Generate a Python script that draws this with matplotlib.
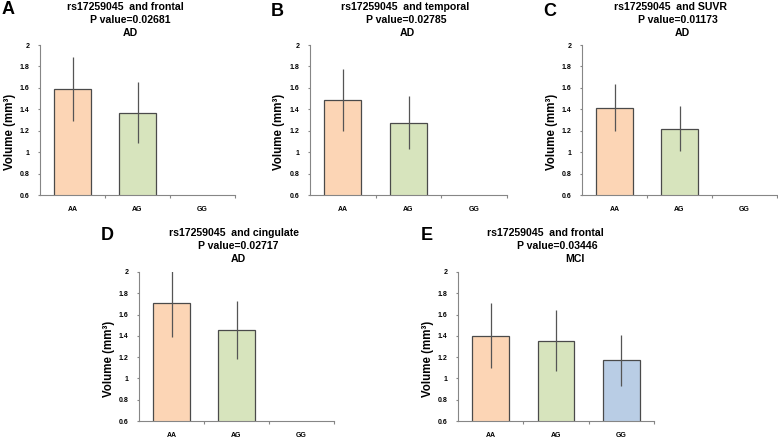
import numpy as np
import matplotlib
matplotlib.use("Agg")
import matplotlib.pyplot as plt

plt.rcParams['font.family'] = ['Liberation Sans', 'DejaVu Sans']

# data
genotypes = ["AA", "AG", "GG"]
letters = ["A", "B", "C", "D", "E"]
regions = ["frontal", "temporal", "SUVR", "cingulate", "frontal"]
p_values = ["0.02681", "0.02785", "0.01173", "0.02717", "0.03446"]
groups = ["AD", "AD", "AD", "AD", "MCI"]
means = [[1.59, 1.37], [1.488, 1.275], [1.415, 1.219], [1.71, 1.456], [1.403, 1.356, 1.169]]
errors = [[0.295, 0.283], [0.288, 0.25], [0.221, 0.21], [0.32, 0.275], [0.305, 0.284, 0.24]]
yticks = [0.6, 0.8, 1.0, 1.2, 1.4, 1.6, 1.8, 2.0]
ytick_labels = ["0.6", "0.8", "1", "1.2", "1.4", "1.6", "1.8", "2"]

bar_colors = ["#FCD5B5", "#D7E4BD", "#B9CDE5"]
W, H = 778, 438

#axes rectangles in pixels: left, top, width, height
rects = [(40, 45, 195, 150), (310, 45, 197, 150), (582, 45, 195, 150),
         (139, 272, 195, 149), (458, 272, 196, 149)]
#title line centres (x for each line, y for each line) and letter positions
title_x = [(125, 130, 130), (405, 406, 407), (670, 678, 682), (234, 238, 238), (545, 557, 575)]
title_y_top = (7, 20, 33)
title_y_bot = (233, 246, 259)
letter_pos = [(8, 9), (277, 11), (550, 11), (107, 235), (427, 235)]

fig = plt.figure(figsize=(W / 100, H / 100), dpi=100)

for i in range(5):
    l, t, w, h = rects[i]
    ax = fig.add_axes([l / W, (H - t - h) / H, w / W, h / H])
    n = len(means[i])
    x = np.arange(n)
    ax.bar(x, means[i], width=0.56, color=bar_colors[:n], edgecolor="#4a4a4a",
           linewidth=0.9, zorder=2)
    ax.errorbar(x, means[i], yerr=errors[i], fmt="none", ecolor="#555555",
                elinewidth=0.9, capsize=0, zorder=3)
    ax.set_xlim(-0.5, 2.5)
    ax.set_ylim(0.6, 2.0)
    ax.set_yticks(yticks)
    ax.set_yticklabels(ytick_labels, fontsize=5, fontweight="bold")
    ax.set_xticks(range(3))
    ax.set_xticklabels(genotypes, fontsize=5, fontweight="bold")
    ax.set_xticks([0.5, 1.5, 2.5], minor=True)
    ax.tick_params(axis="x", which="major", length=0, pad=8)
    ax.tick_params(axis="x", which="minor", length=2, width=0.8, color="#868686", direction="out")
    ax.tick_params(axis="y", length=1.6, width=0.8, color="#868686", pad=6)
    for s in ["top", "right"]:
        ax.spines[s].set_visible(False)
    for s in ["left", "bottom"]:
        ax.spines[s].set_color("#868686")
        ax.spines[s].set_linewidth(0.8)
    ax.text(-0.155, 0.42, "Volume (mm³)", transform=ax.transAxes, rotation=90,
            ha="center", va="center", fontsize=8.3, fontweight="bold")

    ty = title_y_top if i < 3 else title_y_bot
    lines = ["rs17259045  and " + regions[i], "P value=" + p_values[i], groups[i]]
    for k in range(3):
        fig.text(title_x[i][k] / W, 1 - ty[k] / H, lines[k], ha="center", va="center",
                 fontsize=7.6, fontweight="bold")
    fig.text(letter_pos[i][0] / W, 1 - letter_pos[i][1] / H, letters[i], ha="center",
             va="center", fontsize=13, fontweight="bold")

fig.savefig("out.png", dpi=100)
